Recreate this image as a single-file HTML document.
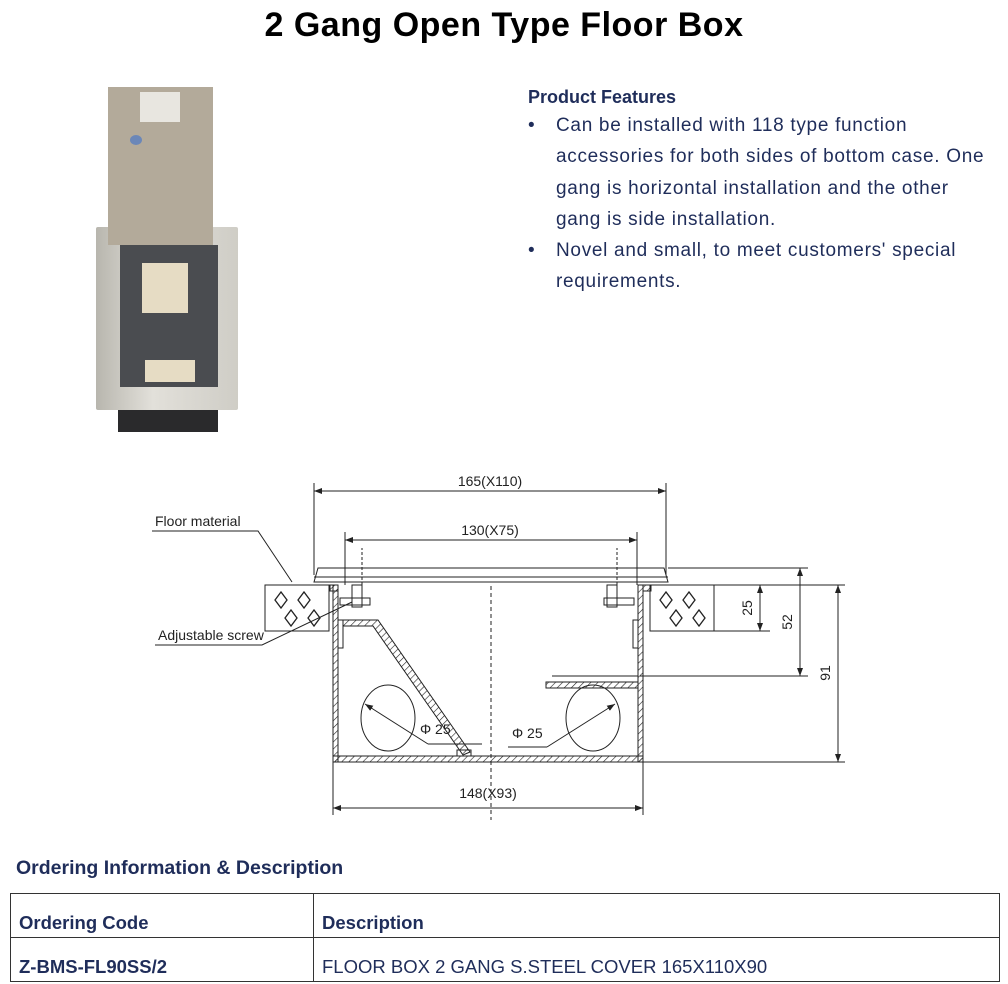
<!DOCTYPE html>
<html><head><meta charset="utf-8"><style>
body{margin:0;width:1008px;height:984px;background:#fff;position:relative;font-family:"Liberation Sans",sans-serif;overflow:hidden}
.a{position:absolute}
h1{position:absolute;left:0;width:1008px;top:6px;margin:0;text-align:center;font-size:34px;font-weight:bold;color:#000;letter-spacing:0.5px}
.feat{left:528px;top:87px;color:#1f2d5a;font-size:19px;white-space:nowrap}
.feat b{display:block;margin-bottom:2px;font-size:18px}
.feat ul{margin:0;padding:0;list-style:none;letter-spacing:0.7px}
.feat li{position:relative;padding-left:28px;line-height:31.3px}
.feat li:before{content:"•";position:absolute;left:0;top:0}
table{position:absolute;left:10px;top:893px;width:990px;border-collapse:collapse;font-size:18.5px;color:#1f2d5a}
td{border:1px solid #333;padding:0 8px;height:40px;vertical-align:bottom;padding-bottom:3px}
</style></head><body>
<h1>2 Gang Open Type Floor Box</h1>
<div class="a feat"><b>Product Features</b><ul>
<li>Can be installed with 118 type function<br>accessories for both sides of bottom case. One<br>gang is horizontal installation and the other<br>gang is side installation.</li>
<li>Novel and small, to meet customers' special<br>requirements.</li></ul></div>

<div class="a" style="left:118px;top:408px;width:100px;height:24px;background:#2a2a2c"></div>
<div class="a" style="left:96px;top:227px;width:142px;height:183px;background:linear-gradient(90deg,#b8b6ae,#e2e0da 40%,#cfcdc6);border-radius:2px"></div>
<div class="a" style="left:120px;top:245px;width:98px;height:142px;background:#4a4c50"></div>
<div class="a" style="left:142px;top:263px;width:46px;height:50px;background:#e6dcc4"></div>
<div class="a" style="left:145px;top:360px;width:50px;height:22px;background:#e6dcc4"></div>
<div class="a" style="left:108px;top:87px;width:105px;height:158px;background:#b3aa9a"></div>
<div class="a" style="left:140px;top:92px;width:40px;height:30px;background:#e8e6e0"></div>
<div class="a" style="left:130px;top:135px;width:12px;height:10px;border-radius:50%;background:#6b87b8"></div>

<svg class="a" style="left:0;top:0" width="1008" height="984" font-family="Liberation Sans,sans-serif" font-size="14" fill="none" stroke="#222" stroke-width="1">
<defs><pattern id="h" width="5" height="5" patternUnits="userSpaceOnUse" patternTransform="rotate(45)"><line x1="0" y1="0" x2="0" y2="5" stroke="#222" stroke-width="1.2"/></pattern>
<marker id="ar" markerWidth="8" markerHeight="6" refX="8" refY="3" orient="auto-start-reverse"><path d="M0,0L8,3L0,6z" fill="#222" stroke="none"/></marker></defs>
<line x1="314" y1="483" x2="314" y2="575"/><line x1="666" y1="483" x2="666" y2="575"/>
<line x1="314" y1="491" x2="666" y2="491" marker-start="url(#ar)" marker-end="url(#ar)"/>
<line x1="345" y1="532" x2="345" y2="585"/><line x1="637" y1="532" x2="637" y2="585"/>
<line x1="345" y1="540" x2="637" y2="540" marker-start="url(#ar)" marker-end="url(#ar)"/>
<g fill="#222" stroke="none"><text x="490" y="486" text-anchor="middle">165(X110)</text><text x="490" y="535" text-anchor="middle">130(X75)</text>
<text x="488" y="798" text-anchor="middle">148(X93)</text>
<text x="155" y="526">Floor material</text><text x="158" y="640">Adjustable screw</text>
<text x="420" y="734">Φ 25</text><text x="512" y="738">Φ 25</text></g>
<path d="M318,568 L664,568 L668,582 L314,582 Z"/><line x1="314" y1="577" x2="668" y2="577"/>
<rect x="265" y="585" width="64" height="46"/><rect x="650" y="585" width="64" height="46"/>
<g stroke-width="1.3"><path d="M275,600l6,-8 6,8 -6,8z M298,600l6,-8 6,8 -6,8z M285,618l6,-8 6,8 -6,8z M308,618l6,-8 6,8 -6,8z M660,600l6,-8 6,8 -6,8z M683,600l6,-8 6,8 -6,8z M670,618l6,-8 6,8 -6,8z M693,618l6,-8 6,8 -6,8z"/></g>
<rect x="333" y="585" width="5" height="177" fill="url(#h)"/><rect x="638" y="585" width="5" height="177" fill="url(#h)"/>
<rect x="333" y="756" width="310" height="6" fill="url(#h)"/>
<rect x="330" y="585" width="8" height="6" fill="url(#h)"/><rect x="643" y="585" width="8" height="6" fill="url(#h)"/>
<rect x="338" y="620" width="5" height="28"/><rect x="633" y="620" width="5" height="28"/>
<rect x="352" y="585" width="10" height="22"/><rect x="340" y="598" width="30" height="7"/>
<rect x="607" y="585" width="10" height="22"/><rect x="604" y="598" width="30" height="7"/>
<path d="M343,620 L378,620 L470,752 L463,755 L373,626 L343,626 Z" fill="url(#h)"/>
<rect x="457" y="750" width="14" height="6"/>
<rect x="546" y="682" width="92" height="6" fill="url(#h)"/><line x1="552" y1="676" x2="638" y2="676"/>
<ellipse cx="388" cy="718" rx="27" ry="33"/><ellipse cx="593" cy="718" rx="27" ry="33"/>
<line x1="365" y1="704" x2="428" y2="744" marker-start="url(#ar)"/><line x1="428" y1="744" x2="482" y2="744"/>
<line x1="615" y1="704" x2="547" y2="747" marker-start="url(#ar)"/><line x1="547" y1="747" x2="508" y2="747"/>
<line x1="491" y1="586" x2="491" y2="820" stroke-dasharray="4,3"/>
<line x1="362" y1="585" x2="362" y2="548" stroke-dasharray="3,2"/><line x1="617" y1="585" x2="617" y2="548" stroke-dasharray="3,2"/>
<line x1="333" y1="762" x2="333" y2="815"/><line x1="643" y1="762" x2="643" y2="815"/>
<line x1="333" y1="808" x2="643" y2="808" marker-start="url(#ar)" marker-end="url(#ar)"/>
<line x1="668" y1="568" x2="808" y2="568"/><line x1="714" y1="585" x2="845" y2="585"/>
<line x1="714" y1="631" x2="770" y2="631"/><line x1="640" y1="676" x2="808" y2="676"/>
<line x1="643" y1="762" x2="845" y2="762"/>
<line x1="760" y1="585" x2="760" y2="631" marker-start="url(#ar)" marker-end="url(#ar)"/>
<line x1="800" y1="568" x2="800" y2="676" marker-start="url(#ar)" marker-end="url(#ar)"/>
<line x1="838" y1="585" x2="838" y2="762" marker-start="url(#ar)" marker-end="url(#ar)"/>
<g fill="#222" stroke="none"><text transform="translate(752,608) rotate(-90)" text-anchor="middle">25</text>
<text transform="translate(792,622) rotate(-90)" text-anchor="middle">52</text>
<text transform="translate(830,673) rotate(-90)" text-anchor="middle">91</text></g>
<path d="M152,531 L258,531 L292,582" /><path d="M155,645 L262,645 L352,602"/>
</svg>

<div class="a" style="left:16px;top:857px;font-size:19.5px;color:#1f2d5a;font-weight:bold">Ordering Information &amp; Description</div>
<table><tr><td style="width:286px;font-weight:bold">Ordering Code</td><td style="font-weight:bold">Description</td></tr>
<tr><td style="font-weight:bold">Z-BMS-FL90SS/2</td><td>FLOOR BOX 2 GANG S.STEEL COVER 165X110X90</td></tr></table>
</body></html>
